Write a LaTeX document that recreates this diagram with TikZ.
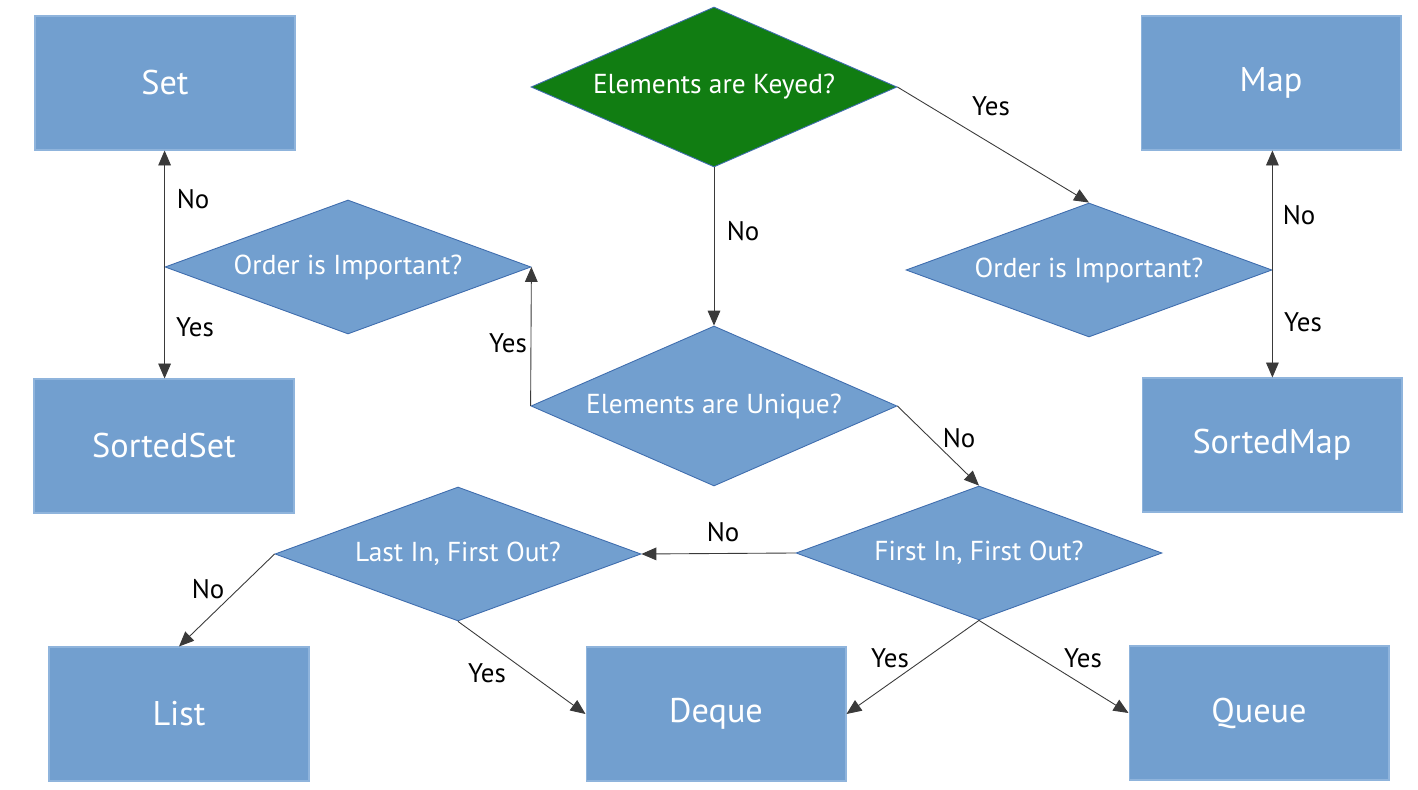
\documentclass[tikz,border=0pt]{standalone}
\usepackage{fontspec}
\setmainfont{PT Sans}
\usetikzlibrary{shapes.geometric,arrows.meta}
\definecolor{boxfill}{HTML}{729FCF}
\definecolor{boxline}{HTML}{8FB4DC}
\definecolor{dialine}{HTML}{3F6DAE}
\definecolor{keygreen}{HTML}{117D12}
\definecolor{wire}{HTML}{3A3A3A}
\tikzset{
  resbox/.style={rectangle, fill=boxfill, draw=boxline, line width=0.6pt,
    minimum width=5.2cm, minimum height=2.68cm, inner sep=0pt,
    text=white, font=\fontsize{19.5}{22}\selectfont},
  question/.style={diamond, fill=boxfill, draw=dialine, line width=0.5pt,
    minimum width=7.32cm, minimum height=2.68cm, inner sep=0pt, aspect=2.7,
    text=white, font=\fontsize{15.6}{18}\selectfont},
  bigq/.style={question, minimum height=3.2cm},
  lbl/.style={text=black, font=\fontsize{15.3}{18}\selectfont, inner sep=0pt},
  link/.style={draw=wire, line width=0.5pt, -{Triangle[length=8.5pt,width=7.2pt]}}
}
\begin{document}
\begin{tikzpicture}[x=0.02cm, y=-0.02cm]
\useasboundingbox[fill=white] (0,0) rectangle (1418,790);
% result boxes
\node[resbox] (set) at (165,83) {Set};
\node[resbox] (map) at (1271,83) {Map};
\node[resbox] (sset) at (164,446) {SortedSet};
\node[resbox] (smap) at (1272,445) {SortedMap};
\node[resbox] (list) at (179,714) {List};
\node[resbox] (deque) at (716,714) {Deque};
\node[resbox] (queue) at (1259,713) {Queue};
% questions
\node[bigq, fill=keygreen] (keyed) at (714,87) {Elements are Keyed?};
\node[question] (orderl) at (348,267) {Order is Important?};
\node[question] (orderr) at (1089,270) {Order is Important?};
\node[bigq] (unique) at (714,406) {Elements are Unique?};
\node[question] (fifo) at (979,553) {First In, First Out?};
\node[question] (lifo) at (458,554) {Last In, First Out?};
% connectors
\draw[link] (keyed.east) -- (orderr.north);
\draw[link] (keyed.south) -- (unique.north);
\draw[link] (orderr.east) -- (orderr.east |- map.south);
\draw[link] (orderr.east) -- (orderr.east |- smap.north);
\draw[link] (orderl.west) -- (orderl.west |- set.south);
\draw[link] (orderl.west) -- (orderl.west |- sset.north);
\draw[link] (unique.west) -- (orderl.east);
\draw[link] (unique.east) -- (fifo.north);
\draw[link] (fifo.west) -- (lifo.east);
\draw[link] (lifo.west) -- (list.north);
\draw[link] (lifo.south) -- (deque.west);
\draw[link] (fifo.south) -- (deque.east);
\draw[link] (fifo.south) -- (queue.west);
% labels
\node[lbl] (l1) at (991,106) {Yes};
\node[lbl] (l2) at (743,231) {No};
\node[lbl] (l3) at (1299,215) {No};
\node[lbl] (l4) at (1303,322) {Yes};
\node[lbl] (l5) at (193,199) {No};
\node[lbl] (l6) at (195,327) {Yes};
\node[lbl] (l7) at (508,343) {Yes};
\node[lbl] (l8) at (959,438) {No};
\node[lbl] (l9) at (723,532) {No};
\node[lbl] (l10) at (208,589) {No};
\node[lbl] (l11) at (487,673) {Yes};
\node[lbl] (l12) at (890,658) {Yes};
\node[lbl] (l13) at (1083,658) {Yes};
\end{tikzpicture}
\end{document}
